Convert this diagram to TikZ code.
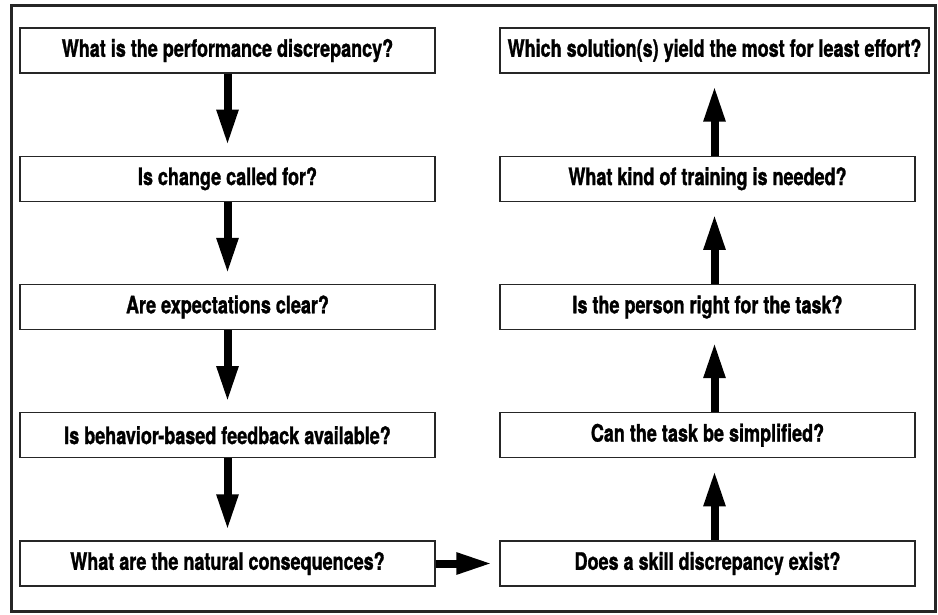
\documentclass[tikz,border=0pt]{standalone}
\usepackage{fontspec}
\usepackage{tikz}
\usetikzlibrary{arrows.meta}
\usetikzlibrary{positioning}
\newfontfamily\boxfont{TeX Gyre Heros}[FakeStretch=0.75, BoldFeatures={FakeBold=1.2}]
\definecolor{colorLine}{HTML}{262626}
\def\colorLine{colorLine}

\begin{document}
\begin{tikzpicture}[x=1pt, y=-1pt,
	qbox/.style={draw=\colorLine, line width=1.2pt, fill=white, minimum width=415pt,
		minimum height=45pt, inner sep=0pt, font=\boxfont\bfseries\fontsize{24pt}{26pt}\selectfont},
	bigarrow/.style={line width=8pt, -{Triangle[length=36pt, width=20pt]}}]

	\useasboundingbox (0,0) rectangle (938,615);
	\draw[line width=3pt, \colorLine] (11,6) rectangle (935,611);

	% left column
	\node[qbox] (perf) at (227.5,50.5) {What is the performance discrepancy?};
	\node[qbox] (change) at (227.5,178.75) {Is change called for?};
	\node[qbox] (expect) at (227.5,307) {Are expectations clear?};
	\node[qbox] (feedback) at (227.5,435.25) {Is behavior-based feedback available?};
	\node[qbox] (conseq) at (227.5,563.5) {What are the natural consequences?};

	% right column
	\node[qbox] (skill) at (707.5,563.5) {Does a skill discrepancy exist?};
	\node[qbox] (simplify) at (707.5,435.25) {Can the task be simplified?};
	\node[qbox] (person) at (707.5,307) {Is the person right for the task?};
	\node[qbox] (training) at (707.5,178.75) {What kind of training is needed?};
	\node[qbox, minimum width=429pt] (solution) at (714.5,50.5) {Which solution(s) yield the most for least effort?};

	\draw[bigarrow, shorten >=10pt] (perf) -- (change);
	\draw[bigarrow, shorten >=10pt] (change) -- (expect);
	\draw[bigarrow, shorten >=10pt] (expect) -- (feedback);
	\draw[bigarrow, shorten >=10pt] (feedback) -- (conseq);
	\draw[bigarrow, shorten >=7pt] (conseq) -- (skill);
	\draw[bigarrow, shorten >=12pt] ([xshift=7pt]skill.north) -- ([xshift=7pt]simplify.south);
	\draw[bigarrow, shorten >=12pt] ([xshift=7pt]simplify.north) -- ([xshift=7pt]person.south);
	\draw[bigarrow, shorten >=12pt] ([xshift=7pt]person.north) -- ([xshift=7pt]training.south);
	\draw[bigarrow, shorten >=12pt] ([xshift=7pt]training.north) -- (solution.south);

\end{tikzpicture}
\end{document}
